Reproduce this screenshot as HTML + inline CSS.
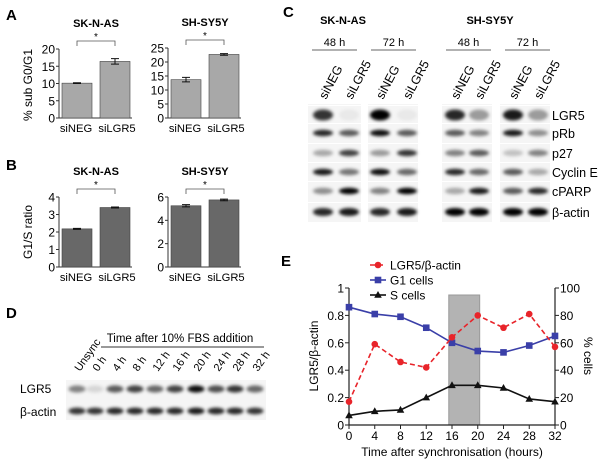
<!DOCTYPE html>
<html><head><meta charset="utf-8"><style>
body{margin:0;background:#fff}
svg{display:block;font-family:"Liberation Sans",Arial,sans-serif}
</style></head><body>
<svg id="fig" width="600" height="463" viewBox="0 0 600 463">
<defs>
<filter id="blur" x="-50%" y="-100%" width="200%" height="300%"><feGaussianBlur stdDeviation="1.6"/></filter>
</defs>
<g font-weight="bold" font-size="15">
<text x="6" y="20">A</text>
<text x="6" y="170">B</text>
<text x="283" y="17">C</text>
<text x="6" y="318">D</text>
<text x="281" y="266">E</text>
</g>
<g id="bars"></g>
<g id="blots"></g>
<g id="lineE"></g>
</svg>
<script>
const NS="http://www.w3.org/2000/svg";
function mk(parent,tag,attrs,text){const e=document.createElementNS(NS,tag);for(const k in attrs)e.setAttribute(k,attrs[k]);if(text!==undefined)e.textContent=text;parent.appendChild(e);return e;}

// ---- Bar chart data (A, B)
const barCategories=["siNEG","siLGR5"];
const aSKNAS=[10.1,16.4];const aSKNASerr=[0.1,0.8];
const aSHSY5Y=[13.7,22.7];const aSHSY5Yerr=[0.8,0.3];
const bSKNAS=[2.18,3.4];const bSKNASerr=[0.03,0.03];
const bSHSY5Y=[5.25,5.75];const bSHSY5Yerr=[0.1,0.07];
const aTicks1=[0,5,10,15,20];const aTicks2=[0,5,10,15,20,25];
const bTicks1=[0,1,2,3,4];const bTicks2=[0,2,4,6];

const bars=document.getElementById('bars');
function barChart(ax,y0,y1,max,vals,errs,ticks,fill,title,name){
  const g=mk(bars,'g',{});
  
  
  const ys=v=>y0-(v/max)*(y0-y1);
  const t=mk(g,'text',{x:ax+37,y:y1-22,'text-anchor':'middle','font-size':'11','font-weight':'bold'},title);
  
  const br=mk(g,'path',{d:`M${ax+18} ${y1-3}v-5H${ax+56}v5`,stroke:'#555',fill:'none','stroke-width':'0.8'});
  
  const st=mk(g,'text',{x:ax+37,y:y1-9,'text-anchor':'middle','font-size':'10'},'*');
  
  mk(g,'line',{x1:ax,y1:y0,x2:ax,y2:ys(max),stroke:'#333','stroke-width':'1'});
  mk(g,'line',{x1:ax,y1:y0,x2:ax+73,y2:y0,stroke:'#333','stroke-width':'1'});
  ticks.forEach(tv=>{const y=ys(tv);mk(g,'line',{x1:ax-3,y1:y,x2:ax,y2:y,stroke:'#333'});
    const l=mk(g,'text',{x:ax-4,y:y+4.5,'text-anchor':'end','font-size':'12'},tv);
    });
  vals.forEach((v,i)=>{const x=ax+3+i*38;
    const r=mk(g,'rect',{x:x,y:ys(v),width:30,height:y0-ys(v),fill:fill,stroke:'#444','stroke-width':'0.6'});
    
    const e=errs[i],cx=x+15;
    mk(g,'path',{d:`M${cx} ${ys(v+e)}V${ys(v-e)}M${cx-4} ${ys(v+e)}h8M${cx-4} ${ys(v-e)}h8`,stroke:'#111','stroke-width':'1'});
    const l=mk(g,'text',{x:cx+(i?2:-1),y:y0+14,'text-anchor':'middle','font-size':'11.2'},barCategories[i]);
    });
}
barChart(59,118,49,20,aSKNAS,aSKNASerr,aTicks1,'#a8a8a8','SK-N-AS','chart-a-sknas');
barChart(168,118,48,25,aSHSY5Y,aSHSY5Yerr,aTicks2,'#a8a8a8','SH-SY5Y','chart-a-shsy5y');
barChart(59,267,197,4,bSKNAS,bSKNASerr,bTicks1,'#686868','SK-N-AS','chart-b-sknas');
barChart(168,267,197,6,bSHSY5Y,bSHSY5Yerr,bTicks2,'#686868','SH-SY5Y','chart-b-shsy5y');
let yl=mk(bars,'text',{transform:'translate(32,85) rotate(-90)','text-anchor':'middle','font-size':'12'},'% sub G0/G1');

yl=mk(bars,'text',{transform:'translate(32,232) rotate(-90)','text-anchor':'middle','font-size':'12'},'G1/S ratio');


// ---- Blots (C, D) intensities 0..1
const blotRows=["LGR5","pRb","p27","Cyclin E","cPARP","β-actin"];
const blotRowY=[115,133,153,172,191,212];
const blotC=[
 [0.75,0.05,0.95,0.05,0.8,0.35,0.85,0.35],
 [0.8,0.6,0.9,0.6,0.6,0.45,0.85,0.4],
 [0.3,0.7,0.35,0.75,0.45,0.6,0.2,0.45],
 [0.85,0.5,0.9,0.55,0.8,0.55,0.6,0.3],
 [0.4,0.95,0.45,1,0.3,0.85,0.6,0.8],
 [0.8,0.85,0.8,0.85,1,0.95,1,1]];
const laneCX=[323,349,380,407,455,479,513,538];
const blotBoxes=[[308,361],[368,418],[442,492],[500,550]];
const headLines=[[312,357],[371,416],[446,491],[505,550]];
const blots=document.getElementById('blots');
function band(g,cx,cy,w,h,v){const e=mk(g,'ellipse',{cx:cx,cy:cy,rx:w,ry:h,fill:'#000','fill-opacity':Math.min(1,v*1.05),filter:'url(#blur)'});return e;}
const cg=mk(blots,'g',{});
blotBoxes.forEach(b=>{mk(cg,'rect',{x:b[0],y:104,width:b[1]-b[0],height:118,fill:'#f5f5f5'});
 blotRowY.forEach(y=>mk(cg,'line',{x1:b[0],y1:y-9.5,x2:b[1],y2:y-9.5,stroke:'#fff','stroke-width':'1'}));});
blotC.forEach((row,r)=>row.forEach((v,i)=>{const h=r==0?5.5:(r==5?4:3.2);const b=band(cg,laneCX[i],blotRowY[r],10,h,v);
  }));
blotRows.forEach((n,r)=>{const t=mk(cg,'text',{x:552,y:blotRowY[r]+5,'font-size':'12.5'},n);});
[["SK-N-AS",343],["SH-SY5Y",490]].forEach(a=>{const t=mk(cg,'text',{x:a[1],y:24,'text-anchor':'middle','font-size':'11','font-weight':'bold'},a[0]);});
headLines.forEach((b,i)=>{const t=mk(cg,'text',{x:(b[0]+b[1])/2,y:46,'text-anchor':'middle','font-size':'11'},i%2?'72 h':'48 h');
 mk(cg,'line',{x1:b[0],y1:50,x2:b[1],y2:50,stroke:'#666','stroke-width':'1'});});
laneCX.forEach((x,i)=>{const t=mk(cg,'text',{transform:`translate(${x+3},100) rotate(-62)`,'font-size':'12.5'},i%2?'siLGR5':'siNEG');});

const dLanes=["Unsync","0 h","4 h","8 h","12 h","16 h","20 h","24 h","28 h","32 h"];
const dLGR5=[0.45,0.12,0.6,0.7,0.55,0.7,0.9,0.65,0.75,0.55];
const dActin=[0.75,0.75,0.8,0.8,0.8,0.8,0.85,0.8,0.8,0.75];
const dX=[77,95,115,135,155,175,196,216,235,255];
const dg=mk(blots,'g',{});
mk(dg,'rect',{x:66,y:380,width:200,height:40,fill:'#f5f5f5'});
dLanes.forEach((n,i)=>{let b=band(dg,dX[i],389,8.5,3.6,dLGR5[i]);
 b=band(dg,dX[i],411,8.5,3.4,dActin[i]);
 const t=mk(dg,'text',{transform:`translate(${dX[i]+3},372) rotate(-55)`,'font-size':'11'},n);});
let t=mk(dg,'text',{x:20,y:393,'font-size':'12'},'LGR5');
t=mk(dg,'text',{x:20,y:416,'font-size':'12'},'β-actin');
t=mk(dg,'text',{x:180,y:342,'text-anchor':'middle','font-size':'11.5'},'Time after 10% FBS addition');
mk(dg,'line',{x1:101,y1:347,x2:264,y2:347,stroke:'#333','stroke-width':'1'});

// ---- Line chart E
const eHours=[0,4,8,12,16,20,24,28,32];
const eLGR5=[0.17,0.59,0.46,0.42,0.64,0.80,0.71,0.81,0.57];
const eG1=[86,81,79,71,60,54,53,58,65];
const eS=[7,10,11,20,29,29,27,19,17];
const eXTicks=[0,4,8,12,16,20,24,28,32];
const eLTicks=[0,0.2,0.4,0.6,0.8,1];
const eRTicks=[0,20,40,60,80,100];
const eg=document.getElementById('lineE');

const X0=349,X1=555,Y0=425,Y1=288;
const xs=h=>X0+(h/32)*(X1-X0);const ysL=v=>Y0-v*(Y0-Y1);const ysR=v=>Y0-(v/100)*(Y0-Y1);
let sh=mk(eg,'rect',{x:xs(15.5),y:295,width:xs(20.3)-xs(15.5),height:Y0-295,fill:'#b3b3b3',stroke:'#999'});

mk(eg,'path',{d:`M${X0} ${Y1}V${Y0}H${X1}V${Y1}`,stroke:'#222',fill:'none','stroke-width':'1.2'});
eXTicks.forEach(h=>{mk(eg,'line',{x1:xs(h),y1:Y0,x2:xs(h),y2:Y0+4,stroke:'#222'});
 const l=mk(eg,'text',{x:xs(h),y:Y0+15,'text-anchor':'middle','font-size':'12'},h);});
eLTicks.forEach(v=>{mk(eg,'line',{x1:X0-4,y1:ysL(v),x2:X0,y2:ysL(v),stroke:'#222'});
 const l=mk(eg,'text',{x:X0-5,y:ysL(v)+4.5,'text-anchor':'end','font-size':'12'},v);});
eRTicks.forEach(v=>{mk(eg,'line',{x1:X1,y1:ysR(v),x2:X1+4,y2:ysR(v),stroke:'#222'});
 const l=mk(eg,'text',{x:X1+5,y:ysR(v)+4.5,'font-size':'12'},v);});
t=mk(eg,'text',{x:452,y:456,'text-anchor':'middle','font-size':'12'},'Time after synchronisation (hours)');
t=mk(eg,'text',{transform:'translate(318,356) rotate(-90)','text-anchor':'middle','font-size':'12'},'LGR5/β-actin');
t=mk(eg,'text',{transform:'translate(584,356) rotate(90)','text-anchor':'middle','font-size':'12'},'% cells');
function marker(g,type,x,y,c){if(type=='c')return mk(g,'circle',{cx:x,cy:y,r:3.3,fill:c});if(type=='s')return mk(g,'rect',{x:x-3.3,y:y-3.3,width:6.6,height:6.6,fill:c});return mk(g,'path',{d:`M${x} ${y-4}L${x+3.8} ${y+2.8}H${x-3.8}Z`,fill:c});}
function series(vals,ysF,color,dash,type,name){const g=mk(eg,'g',{});
 mk(g,'polyline',{points:vals.map((v,i)=>xs(eHours[i])+','+ysF(v)).join(' '),fill:'none',stroke:color,'stroke-width':'1.6','stroke-dasharray':dash});
 vals.forEach((v,i)=>{const m=marker(g,type,xs(eHours[i]),ysF(v),color);});}
series(eS,ysR,'#111','', 't','series-s-cells');
series(eG1,ysR,'#3a3fa8','', 's','series-g1-cells');
series(eLGR5,ysL,'#e8242a','5,3','c','series-lgr5');
[["LGR5/β-actin",'#e8242a','5,3','c'],["G1 cells",'#3a3fa8','','s'],["S cells",'#111','','t']].forEach((L,i)=>{const y=265+i*15;
 const g=mk(eg,'g',{});
 mk(g,'line',{x1:370,y1:y,x2:386,y2:y,stroke:L[1],'stroke-width':'1.6','stroke-dasharray':L[2]});marker(g,L[3],378,y,L[1]);
 mk(g,'text',{x:390,y:y+4.5,'font-size':'12'},L[0]);});
</script>
</body></html>
